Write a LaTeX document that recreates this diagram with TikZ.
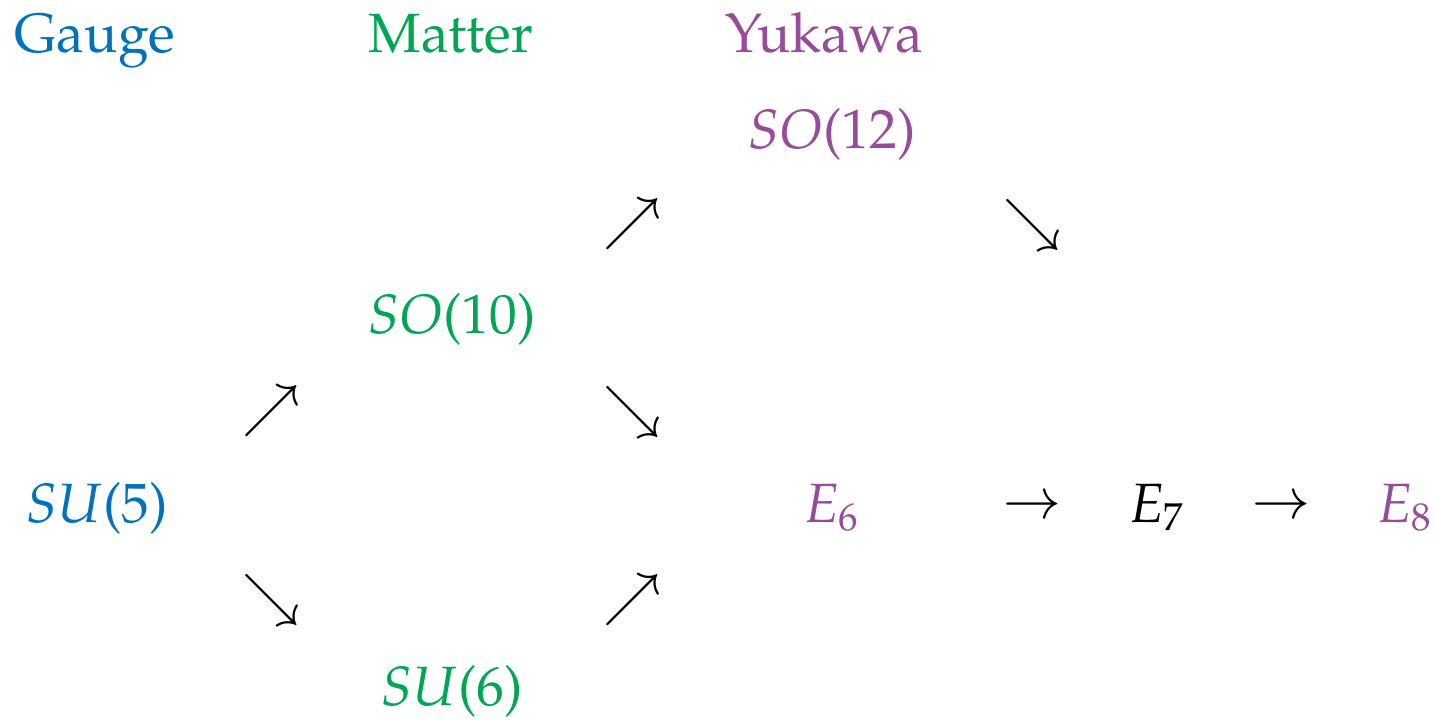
\documentclass[tikz,border=0pt]{standalone}
\usepackage[T1]{fontenc}
\usepackage{mathpazo}
\newcommand{\up}[1]{\mbox{\normalfont #1}}
\newcommand{\subup}[1]{_{\mbox{\normalfont\fontsize{6.7}{8}\selectfont #1}}}
\definecolor{gaugeblue}{RGB}{0,114,189}
\definecolor{mattergreen}{RGB}{0,166,81}
\definecolor{yukawapurple}{RGB}{150,75,155}
\begin{document}
\begin{tikzpicture}[x=0.1724pt,y=-0.1724pt,
  lbl/.style={anchor=base,inner sep=0pt,font=\fontsize{9.55}{11}\selectfont},
  sym/.style={anchor=center,inner sep=0pt,font=\fontsize{9.55}{11}\selectfont}]
\path[use as bounding box] (0,0) rectangle (1439,719);
% headers
\node[lbl,text=gaugeblue] (hg) at (95,52) {Gauge};
\node[lbl,text=mattergreen] (hm) at (451,52) {Matter};
\node[lbl,text=yukawapurple] (hy) at (824,52) {Yukawa};
% groups
\node[lbl,text=gaugeblue] (su5) at (97,522) {$SU\up{(5)}$};
\node[lbl,text=mattergreen] (so10) at (452,333) {$SO\up{(10)}$};
\node[lbl,text=mattergreen] (su6) at (452,705) {$SU\up{(6)}$};
\node[lbl,text=yukawapurple] (so12) at (832,148) {$SO\up{(12)}$};
\node[lbl,text=yukawapurple] (e6) at (832,522) {$E\subup{6}$};
\node[lbl] (e7) at (1157,522) {$E\subup{7}$};
\node[lbl,text=yukawapurple] (e8) at (1405,522) {$E\subup{8}$};
% arrows
\node[sym] (a1) at (271,411) {$\nearrow$};
\node[sym] (a2) at (271,600) {$\searrow$};
\node[sym] (a3) at (632,224) {$\nearrow$};
\node[sym] (a4) at (632,412) {$\searrow$};
\node[sym] (a5) at (632,600) {$\nearrow$};
\node[sym] (a6) at (1032,225) {$\searrow$};
\node[sym] (a7) at (1032,508) {$\rightarrow$};
\node[sym] (a8) at (1281,508) {$\rightarrow$};
\end{tikzpicture}
\end{document}
